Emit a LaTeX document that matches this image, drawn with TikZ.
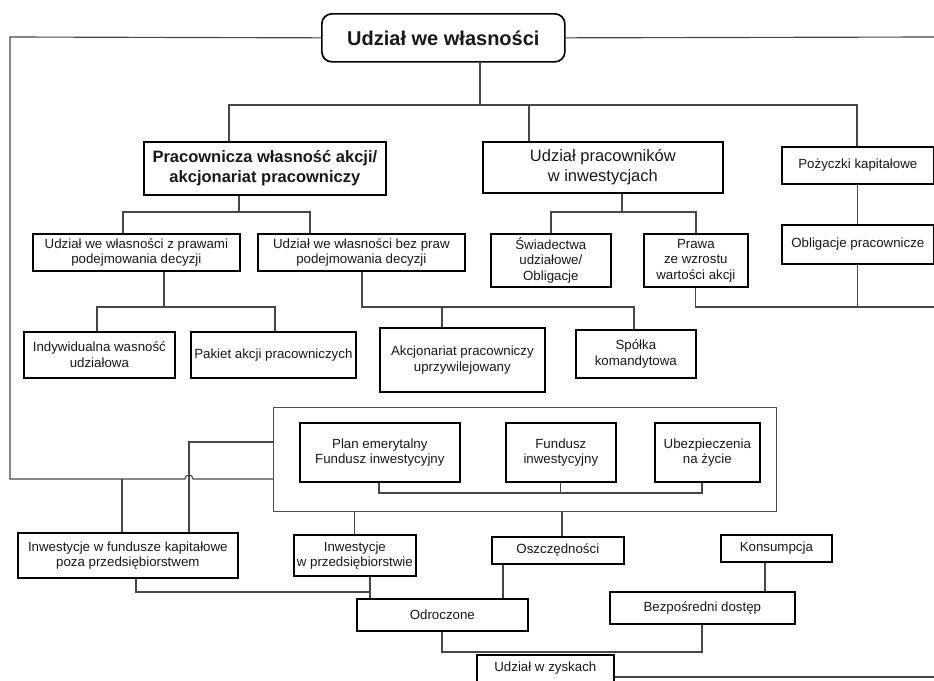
\documentclass[tikz,border=0pt]{standalone}
\usepackage{fontspec}
\setmainfont{Liberation Sans}
\begin{document}
\begin{tikzpicture}[x=1pt,y=-1pt,
  box/.style={draw=black,line width=1.7pt,fill=white,align=center,inner sep=0pt,
    anchor=north west,text=black!90,font=\fontsize{13.3}{15.5}\selectfont},
  bigbox/.style={box,font=\fontsize{16.5}{19.5}\selectfont},
  boldbox/.style={box,font=\bfseries\fontsize{16.5}{20}\selectfont},
  frame/.style={draw=black!70,line width=1.1pt,anchor=north west,inner sep=0pt},
  link/.style={draw=black!72,line width=1.15pt}]
\useasboundingbox (0,0) rectangle (934,680);
\clip (0,0) rectangle (934,680);

% header
\node[box,rounded corners=10pt,font=\bfseries\fontsize{20}{24}\selectfont,
  minimum width=243pt,minimum height=48pt] (top) at (321,13) {Udział we własności};

% first level
\node[boldbox,minimum width=242pt,minimum height=53pt] (pw) at (143,141)
  {Pracownicza własność akcji/\\akcjonariat pracowniczy};
\node[bigbox,minimum width=240pt,minimum height=51pt] (upi) at (482,141)
  {Udział pracowników\\w inwestycjach};
\node[box,minimum width=152pt,minimum height=37pt] (pozy) at (781,146) {Pożyczki kapitałowe};
\node[box,minimum width=152pt,minimum height=39pt] (oblig) at (781,224) {Obligacje pracownicze};

% second level
\node[box,minimum width=207pt,minimum height=37pt] (zpraw) at (32,233)
  {Udział we własności z prawami\\podejmowania decyzji};
\node[box,minimum width=207pt,minimum height=37pt] (bezpraw) at (257,233)
  {Udział we własności bez praw\\podejmowania decyzji};
\node[box,minimum width=120pt,minimum height=53pt] (swiad) at (490,233)
  {Świadectwa\\udziałowe/\\Obligacje};
\node[box,minimum width=104pt,minimum height=53pt] (prawa) at (643,233)
  {Prawa\\ze wzrostu\\wartości akcji};

% third level
\node[box,minimum width=151pt,minimum height=46pt] (ind) at (23,331)
  {Indywidualna wasność\\udziałowa};
\node[box,minimum width=165pt,minimum height=46pt] (pakiet) at (190,331)
  {Pakiet akcji pracowniczych};
\node[box,minimum width=165pt,minimum height=64pt] (akcj) at (379,327)
  {Akcjonariat pracowniczy\\uprzywilejowany};
\node[box,minimum width=120pt,minimum height=48pt] (spolka) at (575,329)
  {Spółka\\komandytowa};

% funds group
\node[frame,minimum width=503pt,minimum height=104pt] (cont) at (273,407) {};
\node[box,minimum width=160pt,minimum height=59pt] (plan) at (299,422)
  {Plan emerytalny\\Fundusz inwestycyjny};
\node[box,minimum width=110pt,minimum height=59pt] (fund) at (505,422)
  {Fundusz\\inwestycyjny};
\node[box,minimum width=105pt,minimum height=59pt] (ubez) at (654,422)
  {Ubezpieczenia\\na życie};

% lower part
\node[box,minimum width=220pt,minimum height=45pt] (invf) at (17,532)
  {Inwestycje w fundusze kapitałowe\\poza przedsiębiorstwem};
\node[box,minimum width=122pt,minimum height=41pt] (invp) at (293,534)
  {Inwestycje\\w przedsiębiorstwie};
\node[box,minimum width=132pt,minimum height=27pt] (osz) at (491,536) {Oszczędności};
\node[box,minimum width=111pt,minimum height=27pt] (kons) at (720,534) {Konsumpcja};
\node[box,minimum width=171pt,minimum height=32pt] (odr) at (356,598) {Odroczone};
\node[box,minimum width=185pt,minimum height=32pt] (bezp) at (609,591) {Bezpośredni dostęp};
\node[box,minimum width=137pt,minimum height=44pt] (zysk) at (476,654) {Udział w zyskach\\[4pt]};

% junction points
\coordinate (L1) at (10,37);
\coordinate (L2) at (10,479);
\coordinate (R1) at (934,37);
\coordinate (b0) at (480,105);
\coordinate (bL) at (229,105);
\coordinate (bM) at (529,105);
\coordinate (bR) at (857,105);
\coordinate (p0) at (239,212);
\coordinate (pL) at (123,212);
\coordinate (pR) at (310,212);
\coordinate (u0) at (622,212);
\coordinate (uL) at (551,212);
\coordinate (uR) at (696,212);
\coordinate (z0) at (164,307);
\coordinate (zL) at (97,307);
\coordinate (zR) at (275,307);
\coordinate (q0) at (362,307);
\coordinate (qM) at (442,307);
\coordinate (qR) at (634,307);
\coordinate (rr) at (934,307);
\coordinate (c0) at (379,493);
\coordinate (c1) at (702,493);
\coordinate (o1) at (562,520);
\coordinate (k1) at (189,442);
\coordinate (k2) at (122,479);
\coordinate (hA) at (185,479);
\coordinate (hB) at (193,479);
\coordinate (f1) at (136,592);
\coordinate (f2) at (370,592);
\coordinate (g1) at (503,580);
\coordinate (h1) at (765,580);
\coordinate (m1) at (442,652);
\coordinate (m2) at (702,652);
\coordinate (z9) at (934,677);

% connectors
\begin{scope}[link]
  \draw (top.west) -- (L1) -- (L2) -- (hA) .. controls (185,473.7) and (193,473.7) .. (hB)
        -- (hB -| cont.west);
  \draw (top.east) -- (R1);
  \draw (b0 |- top.south) -- (b0);
  \draw (bL |- pw.north) -- (bL) -- (bR) -- (bR |- pozy.north);
  \draw (bM) -- (bM |- upi.north);
  \draw (pozy.south) -- (oblig.north);
  \draw (p0 |- pw.south) -- (p0);
  \draw (pL |- zpraw.north) -- (pL) -- (pR) -- (pR |- bezpraw.north);
  \draw (u0 |- upi.south) -- (u0);
  \draw (uL |- swiad.north) -- (uL) -- (uR) -- (uR |- prawa.north);
  \draw (z0 |- zpraw.south) -- (z0);
  \draw (zL |- ind.north) -- (zL) -- (zR) -- (zR |- pakiet.north);
  \draw (q0 |- bezpraw.south) -- (q0) -- (qR) -- (qR |- spolka.north);
  \draw (qM) -- (qM |- akcj.north);
  \draw (prawa.south) -- (prawa.south |- rr) -- (rr);
  \draw (oblig.south) -- (oblig.south |- rr);
  \draw (c0 |- plan.south) -- (c0) -- (c1) -- (c1 |- ubez.south);
  \draw (fund.south) -- (fund.south |- c0);
  \draw (invp.north |- cont.south) -- (invp.north);
  \draw (o1 |- cont.south) -- (o1 |- osz.north);
  \draw (cont.west |- k1) -- (k1) -- (k1 |- invf.north);
  \draw (k2) -- (k2 |- invf.north);
  \draw (f1 |- invf.south) -- (f1) -- (f2);
  \draw (f2 |- invp.south) -- (f2 |- odr.north);
  \draw (g1 |- osz.south) -- (g1 |- odr.north);
  \draw (h1 |- kons.south) -- (h1 |- bezp.north);
  \draw (m1 |- odr.south) -- (m1) -- (m2) -- (m2 |- bezp.south);
  \draw (zysk.east |- z9) -- (z9);
\end{scope}
\end{tikzpicture}
\end{document}
